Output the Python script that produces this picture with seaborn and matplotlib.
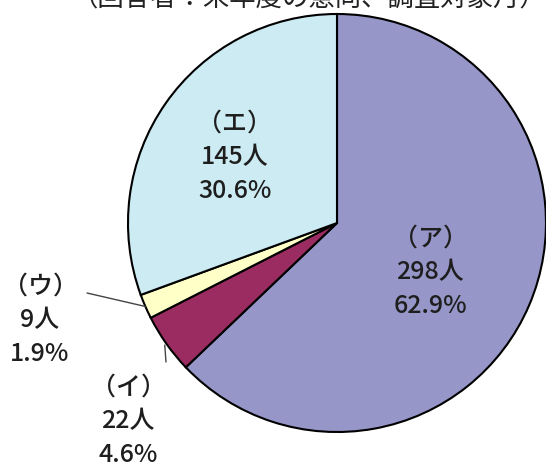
import numpy as np
import matplotlib
matplotlib.use("Agg")
import matplotlib.pyplot as plt
import seaborn as sns

W, H = 546, 472

# data
categories = ["（ア）", "（イ）", "（ウ）", "（エ）"]
counts = [298, 22, 9, 145]
percents = ["62.9%", "4.6%", "1.9%", "30.6%"]
colors = ["#9696C8", "#9B2C62", "#FFFFC8", "#CDEBF2"]
title = "（回答者：来年度の意向、調査対象月）"

sns.set_theme(style="white")
plt.rcParams["font.family"] = ["Noto Sans CJK JP", "DejaVu Sans"]

fig = plt.figure(figsize=(W / 100, H / 100), dpi=100)
ax = fig.add_axes([0, 0, 1, 1])

cx, cy, r = 337, H - 223, 209
wedges, _ = ax.pie(
    counts,
    colors=sns.color_palette(colors),
    startangle=90,
    counterclock=False,
    center=(cx, cy),
    radius=r,
    wedgeprops=dict(edgecolor="black", linewidth=1.5),
)
ax.set_xlim(0, W)
ax.set_ylim(0, H)
ax.set_aspect("equal")
ax.axis("off")

# label block centres (pixels from top-left)
label_pos = [(430, 272), (128, 421), (40, 320), (235, 157)]
for cat, n, pct, (lx, ly) in zip(categories, counts, percents, label_pos):
    ax.text(lx, H - ly, f"{cat}\n{n}人\n{pct}", ha="center", va="center",
            fontsize=18, color="#1e1e1e", linespacing=1.38, fontweight="medium")

# leader lines for the two thin slices
def edge_point(w, frac=1.0):
    ang = np.deg2rad((w.theta1 + w.theta2) / 2)
    return cx + r * frac * np.cos(ang), cy + r * frac * np.sin(ang)

ex, ey = edge_point(wedges[2])
ax.plot([87, ex], [H - 293, ey], color="#444444", lw=1)
ex, ey = edge_point(wedges[1], 1.01)
ax.plot([166, ex], [H - 362, ey], color="#444444", lw=1)

# title sits mostly above the top edge, as in the source image
fig.text(72 / W, 1 - 12 / H, title, ha="left", va="bottom",
         fontsize=19, color="#222222")

fig.savefig("out.png", dpi=100)
